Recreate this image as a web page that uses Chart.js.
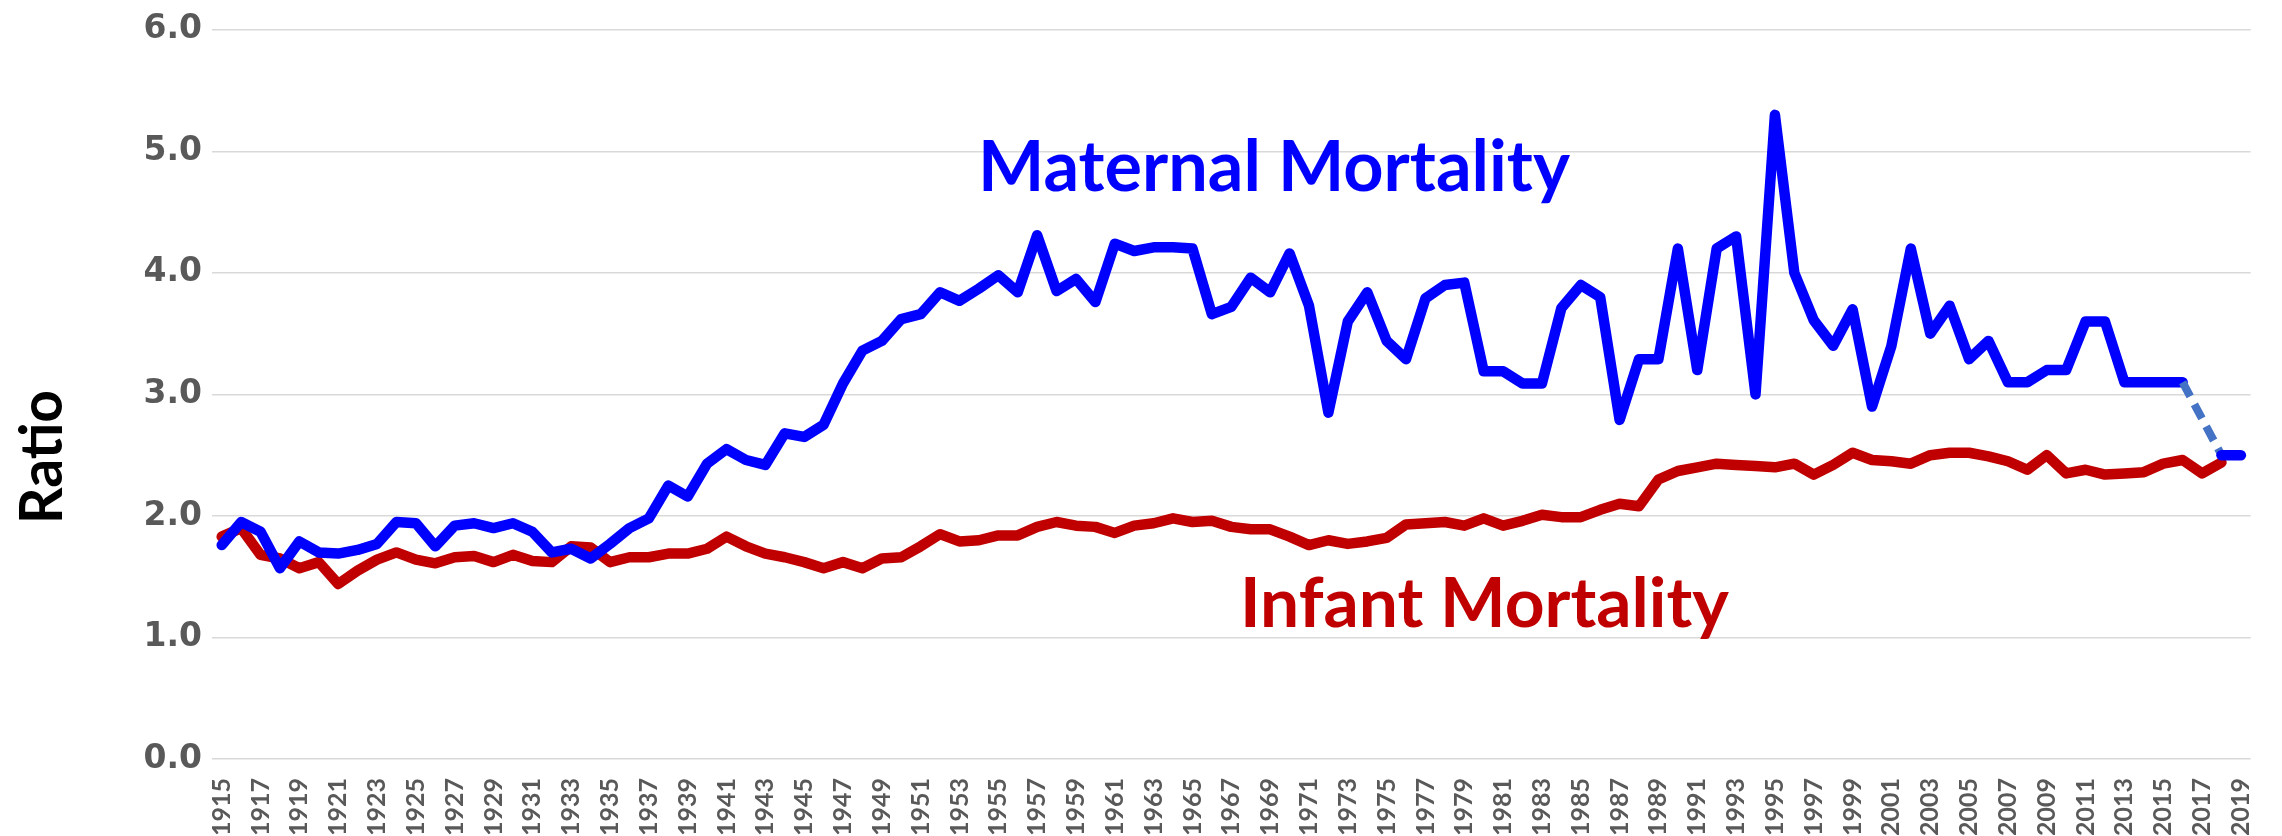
<!DOCTYPE html>
<html>
<head>
<meta charset="utf-8">
<script src="https://cdn.jsdelivr.net/npm/chart.js@4.4.1/dist/chart.umd.min.js"></script>
<style>
  html, body { margin: 0; padding: 0; background: #ffffff; }
  canvas { display: block; }
</style>
</head>
<body>
<canvas id="myChart" width="2282" height="836"></canvas>
<script>
var years = [
    '1915', '1916', '1917', '1918', '1919', '1920', '1921', '1922', '1923', '1924',
    '1925', '1926', '1927', '1928', '1929', '1930', '1931', '1932', '1933', '1934',
    '1935', '1936', '1937', '1938', '1939', '1940', '1941', '1942', '1943', '1944',
    '1945', '1946', '1947', '1948', '1949', '1950', '1951', '1952', '1953', '1954',
    '1955', '1956', '1957', '1958', '1959', '1960', '1961', '1962', '1963', '1964',
    '1965', '1966', '1967', '1968', '1969', '1970', '1971', '1972', '1973', '1974',
    '1975', '1976', '1977', '1978', '1979', '1980', '1981', '1982', '1983', '1984',
    '1985', '1986', '1987', '1988', '1989', '1990', '1991', '1992', '1993', '1994',
    '1995', '1996', '1997', '1998', '1999', '2000', '2001', '2002', '2003', '2004',
    '2005', '2006', '2007', '2008', '2009', '2010', '2011', '2012', '2013', '2014',
    '2015', '2016', '2017', '2018', '2019'
];

// maternal mortality ratio (blue), 2017 missing
var maternal = [
    1.76, 1.95, 1.87, 1.57, 1.79, 1.70, 1.69, 1.72, 1.77, 1.95,
    1.94, 1.75, 1.92, 1.94, 1.90, 1.94, 1.87, 1.70, 1.73, 1.65,
    1.77, 1.90, 1.98, 2.25, 2.16, 2.43, 2.55, 2.46, 2.42, 2.68,
    2.65, 2.75, 3.09, 3.36, 3.44, 3.62, 3.66, 3.84, 3.77, 3.87,
    3.98, 3.84, 4.31, 3.85, 3.95, 3.76, 4.24, 4.18, 4.21, 4.21,
    4.20, 3.66, 3.72, 3.96, 3.84, 4.16, 3.73, 2.85, 3.60, 3.84,
    3.44, 3.29, 3.79, 3.90, 3.92, 3.19, 3.19, 3.09, 3.09, 3.71,
    3.90, 3.80, 2.79, 3.29, 3.29, 4.20, 3.20, 4.20, 4.30, 3.00,
    5.30, 4.00, 3.61, 3.40, 3.70, 2.90, 3.40, 4.20, 3.50, 3.73,
    3.29, 3.44, 3.10, 3.10, 3.20, 3.20, 3.60, 3.60, 3.10, 3.10,
    3.10, 3.10, null, 2.50, 2.50
];

// infant mortality ratio (red), ends 2018
var infant = [
    1.83, 1.90, 1.68, 1.65, 1.57, 1.62, 1.44, 1.55, 1.64, 1.70,
    1.64, 1.61, 1.66, 1.67, 1.62, 1.68, 1.63, 1.62, 1.75, 1.74,
    1.62, 1.66, 1.66, 1.69, 1.69, 1.73, 1.83, 1.75, 1.69, 1.66,
    1.62, 1.57, 1.62, 1.57, 1.65, 1.66, 1.75, 1.85, 1.79, 1.80,
    1.84, 1.84, 1.91, 1.95, 1.92, 1.91, 1.86, 1.92, 1.94, 1.98,
    1.95, 1.96, 1.91, 1.89, 1.89, 1.83, 1.76, 1.80, 1.77, 1.79,
    1.82, 1.93, 1.94, 1.95, 1.92, 1.98, 1.92, 1.96, 2.01, 1.99,
    1.99, 2.05, 2.10, 2.08, 2.30, 2.37, 2.40, 2.43, 2.42, 2.41,
    2.40, 2.43, 2.34, 2.42, 2.52, 2.46, 2.45, 2.43, 2.50, 2.52,
    2.52, 2.49, 2.45, 2.38, 2.50, 2.35, 2.38, 2.34, 2.35, 2.36,
    2.43, 2.46, 2.35, 2.44, null
];

var yMin = 0;
var yMax = 6;
var yStep = 1;

function drawFitted(ctx, text, x, y, w, font, color, angle) {
    ctx.save();
    ctx.font = font;
    ctx.fillStyle = color;
    ctx.textAlign = 'left';
    ctx.textBaseline = 'alphabetic';
    var m = ctx.measureText(text).width;
    ctx.translate(x, y);
    ctx.rotate(angle);
    ctx.scale(w / m, 1);
    ctx.fillText(text, 0, 0);
    ctx.restore();
}

var textPlugin = {
    id: 'textLabels',
    afterDraw: function (chart) {
        var ctx = chart.ctx;
        drawFitted(ctx, 'Maternal Mortality', 978, 191, 592, 'bold 71px Lato', '#0000FF', 0);
        drawFitted(ctx, 'Infant Mortality', 1240, 627, 489, 'bold 69px Lato', '#C00000', 0);
        drawFitted(ctx, 'Ratio', 62, 524, 134, 'bold 59px Lato', '#000000', -Math.PI / 2);
    }
};

function gapStyle(ctx, value) {
    return ctx.p0.skip || ctx.p1.skip ? value : undefined;
}

document.addEventListener('DOMContentLoaded', function () {
    var ctx1 = document.getElementById('myChart').getContext('2d');

    new Chart(ctx1, {
        type: 'line',
        data: {
            labels: years,
            datasets: [{
                label: 'Maternal Mortality',
                data: maternal,
                borderColor: '#0000FF',
                borderWidth: 10.5,
                borderCapStyle: 'round',
                borderJoinStyle: 'round',
                pointRadius: 0,
                tension: 0,
                spanGaps: true,
                segment: {
                    borderColor: function (c) { return gapStyle(c, '#4472C4'); },
                    borderDash: function (c) { return gapStyle(c, [16, 9]); },
                    borderWidth: function (c) { return gapStyle(c, 8); },
                    borderCapStyle: function (c) { return gapStyle(c, 'butt'); }
                }
            }, {
                label: 'Infant Mortality',
                data: infant,
                borderColor: '#C00000',
                borderWidth: 10.5,
                borderCapStyle: 'round',
                borderJoinStyle: 'round',
                pointRadius: 0,
                tension: 0
            }]
        },
        options: {
            responsive: false,
            animation: false,
            devicePixelRatio: 1,
            layout: {
                padding: { top: 27, right: 22, bottom: 0, left: 0 }
            },
            plugins: {
                legend: { display: false },
                tooltip: { enabled: false }
            },
            scales: {
                x: {
                    type: 'category',
                    offset: true,
                    grid: { display: false },
                    border: { display: false },
                    ticks: {
                        autoSkip: false,
                        maxRotation: 90,
                        minRotation: 90,
                        padding: 11,
                        color: '#595959',
                        font: { family: 'Lato', size: 25, weight: 'bold' },
                        callback: function (val, i) {
                            return i % 2 === 0 ? this.getLabelForValue(val) : '';
                        }
                    },
                    afterFit: function (scale) { scale.height = 77; }
                },
                y: {
                    min: yMin,
                    max: yMax,
                    grid: { color: '#D9D9D9', lineWidth: 1.5, drawTicks: false },
                    border: { display: false },
                    ticks: {
                        stepSize: yStep,
                        padding: 10,
                        color: '#595959',
                        font: { family: 'DejaVu Sans', size: 33, weight: 'bold' },
                        callback: function (v) { return v.toFixed(1); }
                    },
                    afterFit: function (scale) { scale.width = 212; }
                }
            }
        },
        plugins: [textPlugin]
    });
});
</script>
</body>
</html>
